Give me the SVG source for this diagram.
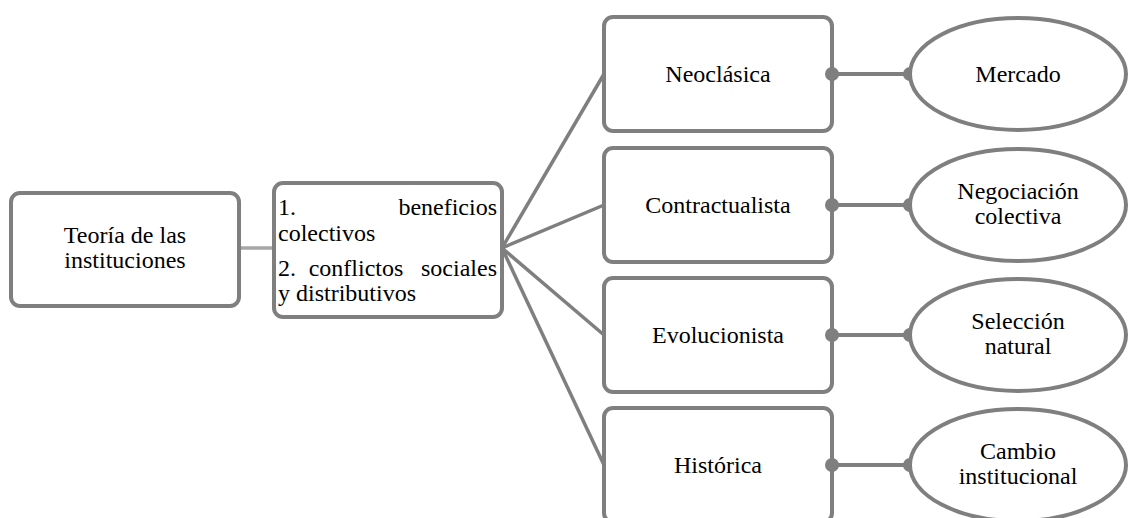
<svg xmlns="http://www.w3.org/2000/svg" width="1128" height="518" viewBox="0 0 1128 518">
<style>
.box{fill:#fff;stroke:#7f7f7f;stroke-width:4}
.t{font-family:"Liberation Serif","Times New Roman",serif;font-size:24px;fill:#000}
.c{text-anchor:middle}
.e{text-anchor:end}
.ln{stroke:#7f7f7f;stroke-width:4;fill:none}
.fan{stroke:#7f7f7f;stroke-width:3.5;fill:none}
.dot{fill:#7f7f7f}
</style>
<rect width="1128" height="518" fill="#fff"/>
<g id="connectors">
<line x1="239" y1="248" x2="274" y2="248" stroke="#a6a6a6" stroke-width="3.5"/>
<line class="fan" x1="502" y1="248" x2="604" y2="74"/>
<line class="fan" x1="502" y1="248" x2="604" y2="205"/>
<line class="fan" x1="502" y1="248" x2="604" y2="335"/>
<line class="fan" x1="502" y1="248" x2="604" y2="465"/>
</g>
<g id="n-teoria">
<rect class="box" x="11" y="193" width="228" height="113" rx="9"/>
<text class="t c" x="125" y="243">Teoría de las</text>
<text class="t c" x="125" y="268">instituciones</text>
</g>
<g id="n-beneficios">
<rect class="box" x="274" y="183" width="228" height="134" rx="9"/>
<text class="t" x="278" y="215">1.</text>
<text class="t e" x="497" y="215">beneficios</text>
<text class="t" x="278" y="241">colectivos</text>
<text class="t" x="278" y="276">2.</text>
<text class="t c" x="356" y="276">conflictos</text>
<text class="t e" x="497" y="276">sociales</text>
<text class="t" x="278" y="301">y distributivos</text>
</g>
<g id="n-neoclasica">
<rect class="box" x="604" y="17" width="228" height="114" rx="9"/>
<text class="t c" x="718" y="82">Neoclásica</text>
</g>
<g id="n-contractualista">
<rect class="box" x="604" y="148" width="228" height="114" rx="9"/>
<text class="t c" x="718" y="213">Contractualista</text>
</g>
<g id="n-evolucionista">
<rect class="box" x="604" y="278" width="228" height="114" rx="9"/>
<text class="t c" x="718" y="343">Evolucionista</text>
</g>
<g id="n-historica">
<rect class="box" x="604" y="408" width="228" height="114" rx="9"/>
<text class="t c" x="718" y="473">Histórica</text>
</g>
<g id="connectors-2">
<line class="ln" x1="832" y1="74" x2="910" y2="74"/>
<circle class="dot" cx="832" cy="74" r="7"/><circle class="dot" cx="910" cy="74" r="7"/>
<line class="ln" x1="832" y1="205" x2="910" y2="205"/>
<circle class="dot" cx="832" cy="205" r="7"/><circle class="dot" cx="910" cy="205" r="7"/>
<line class="ln" x1="832" y1="335" x2="910" y2="335"/>
<circle class="dot" cx="832" cy="335" r="7"/><circle class="dot" cx="910" cy="335" r="7"/>
<line class="ln" x1="832" y1="465" x2="910" y2="465"/>
<circle class="dot" cx="832" cy="465" r="7"/><circle class="dot" cx="910" cy="465" r="7"/>
</g>
<g id="n-mercado">
<ellipse class="box" cx="1018" cy="74" rx="108" ry="56"/>
<text class="t c" x="1018" y="82">Mercado</text>
</g>
<g id="n-negociacion">
<ellipse class="box" cx="1018" cy="205" rx="108" ry="56"/>
<text class="t c" x="1018" y="199">Negociación</text>
<text class="t c" x="1018" y="224">colectiva</text>
</g>
<g id="n-seleccion">
<ellipse class="box" cx="1018" cy="335" rx="108" ry="56"/>
<text class="t c" x="1018" y="329">Selección</text>
<text class="t c" x="1018" y="354">natural</text>
</g>
<g id="n-cambio">
<ellipse class="box" cx="1018" cy="465" rx="108" ry="56"/>
<text class="t c" x="1018" y="459">Cambio</text>
<text class="t c" x="1018" y="484">institucional</text>
</g>
</svg>
